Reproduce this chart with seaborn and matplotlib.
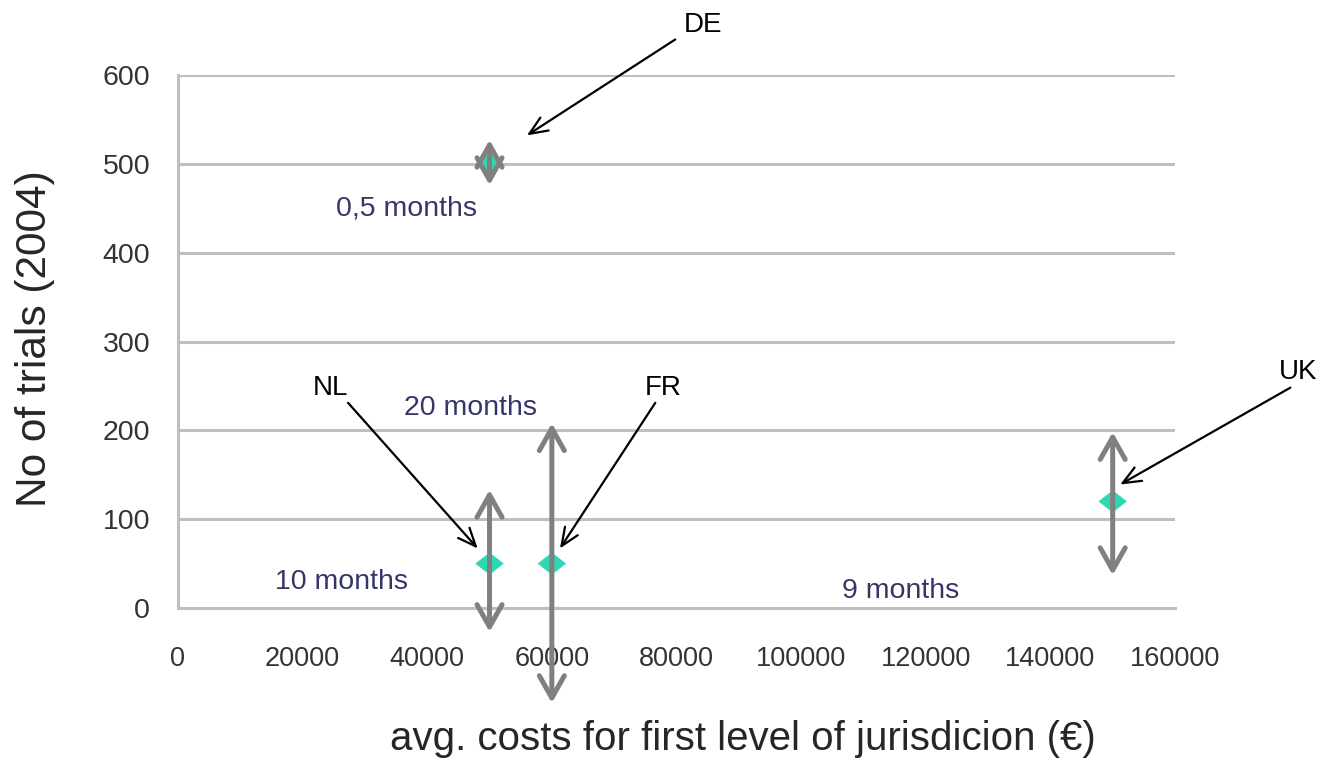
import numpy as np
import pandas as pd
import seaborn as sns
import matplotlib.pyplot as plt

# data
countries = ['DE', 'NL', 'FR', 'UK']
costs = [50000, 50000, 60000, 150000]
trials = [500, 50, 50, 120]
# vertical double arrows (duration) : low / high ends
arrow_low = [476, -27, -107, 37]
arrow_high = [527, 133, 208, 198]
durations = ['0,5 months', '10 months', '20 months', '9 months']
duration_pos = [(36750, 450), (26300, 29), (47000, 225), (115900, 19)]
label_pos = [(84300, 656), (24400, 248), (77800, 248), (179700, 266)]
label_start = [(79800, 640), (27300, 231), (76600, 231), (178500, 248)]
label_end = [(56000, 532), (48100, 67), (61300, 67), (151200, 139)]

df = pd.DataFrame({'country': countries, 'cost': costs, 'trials': trials})

sns.set_style('white')
plt.rcParams['font.family'] = ['Liberation Sans', 'DejaVu Sans']

fig = plt.figure(figsize=(13.25, 7.6), dpi=100)
ax = fig.add_axes([0.1343, 0.2, 0.7525, 0.7013])

grid_c = '#BFBFBF'
ax.set_xlim(0, 160000)
ax.set_ylim(0, 600)
ax.set_yticks(np.arange(0, 601, 100))
ax.set_xticks(np.arange(0, 160001, 20000))
ax.yaxis.grid(True, color=grid_c, lw=2.2)
ax.set_axisbelow(True)
for s in ['top', 'right']:
    ax.spines[s].set_visible(False)
for s in ['left', 'bottom']:
    ax.spines[s].set_color(grid_c)
    ax.spines[s].set_linewidth(2.2)
ax.tick_params(axis='y', length=7, width=2, color=grid_c, labelsize=20.5, pad=13, labelcolor='#333333')
ax.tick_params(axis='x', length=5, width=1.2, color=grid_c, labelsize=19.5, pad=22, labelcolor='#333333')

# diamond a bit wider than tall, as in the reference
diamond = [(-1, 0), (0, 0.78), (1, 0), (0, -0.78), (-1, 0)]
sns.scatterplot(data=df, x='cost', y='trials', marker=diamond, s=420, color='#2FD8B4',
                edgecolor='none', ax=ax, zorder=3, legend=False, clip_on=False)

# duration arrows
for c, lo, hi in zip(costs, arrow_low, arrow_high):
    ax.annotate('', xy=(c, hi), xytext=(c, lo),
                arrowprops=dict(arrowstyle='<->,head_length=0.8,head_width=0.45',
                                color='#808080', lw=3.6, shrinkA=0, shrinkB=0,
                                mutation_scale=20),
                annotation_clip=False, zorder=5)

# country labels with black arrows
for name, p, s, e in zip(countries, label_pos, label_start, label_end):
    ax.text(p[0], p[1], name, fontsize=20, ha='center', va='center', color='black')
    ax.annotate('', xy=e, xytext=s,
                arrowprops=dict(arrowstyle='->,head_length=1.3,head_width=0.55',
                                color='black', lw=1.6, shrinkA=0, shrinkB=0),
                annotation_clip=False, zorder=6)

for d, p in zip(durations, duration_pos):
    ax.text(p[0], p[1], d, fontsize=20.5, ha='center', va='center', color='#35356A')

ax.set_xlabel('avg. costs for first level of jurisdicion (€)', fontsize=29,
              family=['Liberation Sans Narrow', 'Liberation Sans', 'DejaVu Sans'])
ax.xaxis.set_label_coords(0.567, -0.211)
ax.set_ylabel('No of trials (2004)', fontsize=30.5)
ax.yaxis.set_label_coords(-0.123, 0.505)

fig.savefig('out.png', dpi=100)
